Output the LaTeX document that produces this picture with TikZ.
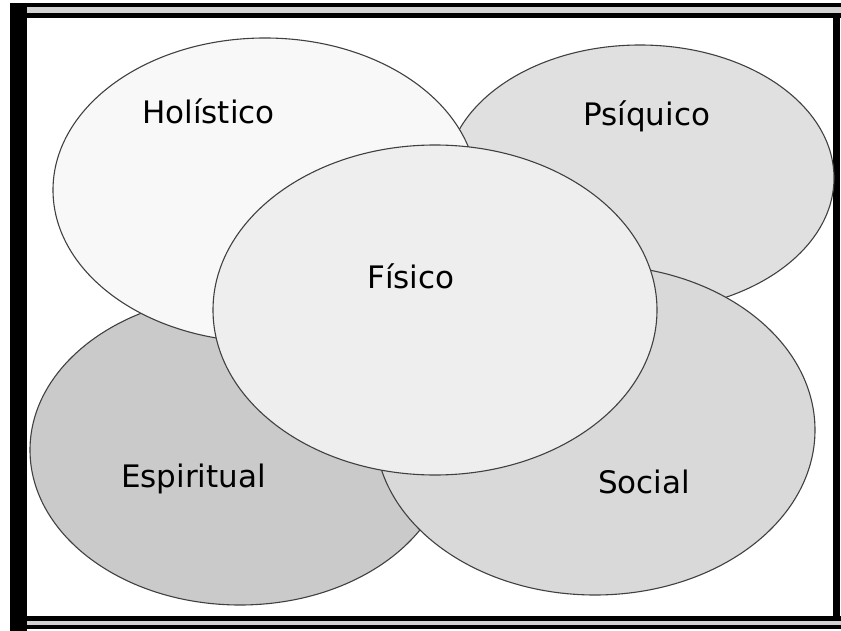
\documentclass[tikz,border=0pt]{standalone}
\usepackage{fontspec}
\setmainfont{DejaVu Sans}
\definecolor{cHol}{HTML}{F8F8F8}
\definecolor{cPsi}{HTML}{E0E0E0}
\definecolor{cEsp}{HTML}{CACACA}
\definecolor{cSoc}{HTML}{D9D9D9}
\definecolor{cFis}{HTML}{EEEEEE}
\definecolor{cLine}{HTML}{404040}
\tikzset{
  blob/.style={draw=cLine, line width=1.1pt},
  lbl/.style={anchor=base west, inner sep=0pt, font=\fontsize{31}{36}\selectfont, text=black},
  framebar/.style={fill=black, draw=none},
}
\begin{document}
\begin{tikzpicture}[x=1pt,y=-1pt]
\useasboundingbox (0,0) rectangle (841,631);
\fill[white] (0,0) rectangle (841,631);
% frame
\fill[gray!35] (20,7) rectangle (841,13);
\fill[gray!35] (27,621) rectangle (841,625);
\fill[framebar] (10,3) rectangle (841,7);
\fill[framebar] (20,13) rectangle (841,18);
\fill[framebar] (10,3) rectangle (27,631);
\fill[framebar] (833,18) rectangle (840,621);
\fill[framebar] (27,616) rectangle (841,621);
\fill[framebar] (10,625) rectangle (841,629);
\fill[white] (27,18) rectangle (833,616);
% ellipses
\path[blob, fill=cEsp] (240,450) ellipse [x radius=210pt, y radius=155pt];
\path[blob, fill=cPsi] (640,178) ellipse [x radius=194pt, y radius=133pt];
\path[blob, fill=cHol] (265,190) ellipse [x radius=212pt, y radius=152pt];
\path[blob, fill=cSoc] (595,430) ellipse [x radius=220pt, y radius=165pt];
\path[blob, fill=cFis] (435,310) ellipse [x radius=222pt, y radius=165pt];
% labels
\node[lbl] (hol) at (142,124) {Holístico};
\node[lbl] (psi) at (583,126) {Psíquico};
\node[lbl] (fis) at (367,288) {Físico};
\node[lbl] (esp) at (121,487) {Espiritual};
\node[lbl] (soc) at (598,493) {Social};
\end{tikzpicture}
\end{document}
